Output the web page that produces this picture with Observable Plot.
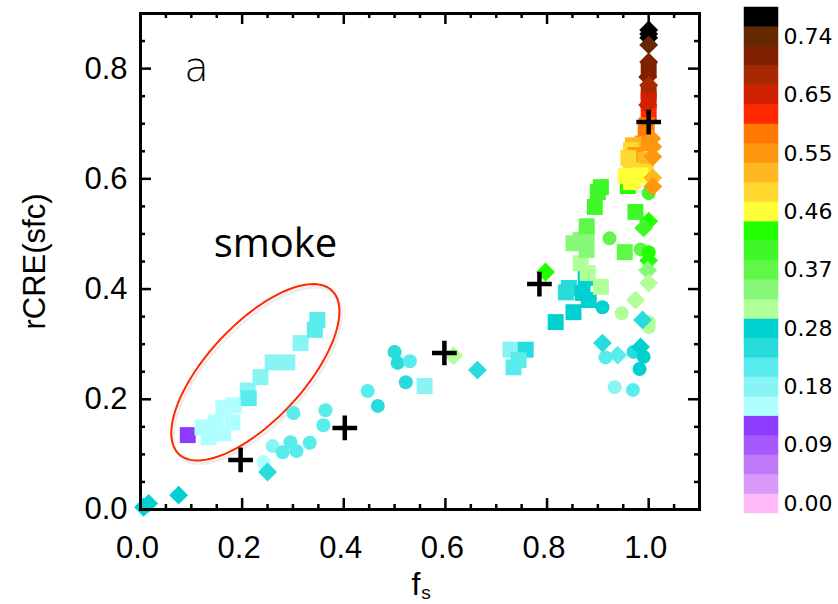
<!DOCTYPE html>
<html><head><meta charset="utf-8">
<script src="https://cdn.jsdelivr.net/npm/d3@7"></script>
<script src="https://cdn.jsdelivr.net/npm/@observablehq/plot@0.6"></script>
<style>
body{margin:0;background:#fff}
#c{position:relative;width:838px;height:604px;overflow:hidden;background:#fff}
#c svg{position:absolute;top:0}
</style>
</head><body><div id="c"></div>
<script>
// colour classes (1 = bottom of colour bar ... 26 = top)
const bandIds = d3.range(1, 27);
const bandColors = ["#ffb8f8","#d898f8","#c078f8","#a858ff","#8c3cff",
  "#b0ffff","#88f4f4","#58ecec","#28dcdc","#00d0d0",
  "#b0ff98","#88f878","#60f848","#40f828","#22ff00",
  "#ffff38","#ffd830","#ffb820","#ff9810","#ff7800",
  "#ff2800","#d02000","#a82800","#802000","#652800","#000000"];
const cbLabels = ["0.00","0.09","0.18","0.28","0.37","0.46","0.55","0.65","0.74"];
const cbLabelBands = [1,4,7,10,13,16,19,22,25];
const cbMax = 0.8;

// squares: [fs, rCRE(sfc), colour class]
const squares = [
 [0.093,0.135,5],[0.122,0.149,6],[0.134,0.131,6],[0.148,0.158,6],[0.163,0.138,6],
 [0.163,0.184,6],[0.181,0.158,6],[0.183,0.189,6],[0.211,0.216,7],[0.213,0.202,8],
 [0.236,0.240,7],[0.260,0.267,7],[0.289,0.267,7],[0.315,0.302,7],[0.343,0.326,8],
 [0.348,0.344,8],[0.559,0.224,7],[0.728,0.290,7],[0.758,0.290,9],[0.744,0.271,8],
 [0.734,0.258,8],[0.817,0.340,10],[0.837,0.394,9],[0.843,0.402,9],[0.876,0.420,10],
 [0.870,0.393,10],[0.882,0.380,10],[0.852,0.358,10],[0.906,0.404,11],[0.880,0.429,11],
 [0.866,0.447,11],[0.878,0.471,12],[0.852,0.483,12],[0.866,0.489,12],[0.878,0.500,12],
 [0.878,0.514,13],[0.894,0.549,14],[0.900,0.576,14],[0.906,0.585,14],[0.959,0.587,15],
 [0.974,0.540,14],[0.953,0.467,13],
 [1.000,0.797,24],[1.000,0.758,23],[1.000,0.743,22],[1.000,0.721,21],[0.996,0.697,20],
 [0.994,0.683,20],[0.988,0.664,19],[0.969,0.661,18],[0.965,0.652,17],[0.974,0.643,19],
 [0.960,0.638,17],[0.994,0.634,18],[0.965,0.616,17],[0.994,0.613,17],[0.955,0.605,16],
 [0.984,0.606,16],[0.970,0.598,16],[0.965,0.594,16]
];
const circles = [
 [0.242,0.086,6],[0.260,0.115,7],[0.280,0.104,8],[0.295,0.122,8],[0.307,0.106,8],
 [0.333,0.121,8],[0.301,0.175,8],[0.364,0.180,8],[0.360,0.153,8],[0.447,0.215,8],
 [0.467,0.188,9],[0.500,0.286,9],[0.506,0.266,9],[0.530,0.269,8],[0.522,0.231,9],
 [0.909,0.367,10],[0.947,0.356,11],[1.000,0.340,11],[1.000,0.331,11],[0.915,0.276,8],
 [0.970,0.286,9],[0.990,0.277,10],[0.982,0.255,10],[0.933,0.222,7],[0.969,0.217,8],
 [0.923,0.492,13],[0.984,0.472,13],[1.000,0.467,15],[1.000,0.574,14]
];
const diamonds = [
 [0.006,0.004,10],[0.016,0.011,10],[0.075,0.026,10],[0.250,0.068,9],[0.616,0.279,11],
 [0.663,0.253,9],[0.797,0.431,15],[0.974,0.380,11],[0.988,0.344,9],[0.909,0.302,9],
 [0.939,0.280,8],[0.984,0.295,10],[1.000,0.523,15],[0.990,0.511,14],[1.000,0.452,15],
 [0.998,0.434,12],[1.000,0.411,11],
 [1.000,0.870,26],[1.000,0.863,26],[1.000,0.856,26],[1.000,0.843,25],[1.000,0.812,24],
 [0.998,0.785,24],[1.000,0.770,23],[0.998,0.734,22],[1.006,0.673,19],[1.008,0.658,19],
 [1.008,0.640,19],[1.008,0.602,18],[1.008,0.586,19]
];
// bin means
const crosses = [[0.197,0.090],[0.402,0.148],[0.598,0.284],[0.785,0.409],[1.000,0.703]];

const xMajor = [0,0.2,0.4,0.6,0.8,1.0];
const xMinor = d3.range(0, 1.1001, 0.05).filter(v => Math.abs(v*5 - Math.round(v*5)) > 1e-6);
const yMajor = [0,0.2,0.4,0.6,0.8];
const yMinor = d3.range(0, 0.9001, 0.05).filter(v => Math.abs(v*5 - Math.round(v*5)) > 1e-6);

// annotation: smoke ellipse (centre in data units, radii in px, angle in degrees)
const smokeEllipse = {cx: 0.226, cy: 0.249, a: 112, b: 48, angle: -47};
const labels = [{text: "a", x: 0.11, y: 0.778}, {text: "smoke", x: 0.144, y: 0.458}];

const W = 730, H = 604, mL = 140, mR = 31, mT = 13, mB = 95;
const fw = W - mL - mR, fh = H - mT - mB;
const xDom = [0, 1.1], yDom = [0, 0.9];
const kx = fw / (xDom[1]-xDom[0]), ky = fh / (yDom[1]-yDom[0]);
const th = smokeEllipse.angle * Math.PI / 180;
const ellPts = d3.range(0, 121).map(i => {
  const t = i / 120 * 2 * Math.PI;
  const dx = smokeEllipse.a*Math.cos(t)*Math.cos(th) - smokeEllipse.b*Math.sin(t)*Math.sin(th);
  const dy = smokeEllipse.a*Math.cos(t)*Math.sin(th) + smokeEllipse.b*Math.sin(t)*Math.cos(th);
  return [smokeEllipse.cx + dx/kx, smokeEllipse.cy - dy/ky];
});

const colorScale = {type: "ordinal", domain: bandIds, range: bandColors};
const tk = {stroke: "black", strokeWidth: 2.5};

const main = Plot.plot({
  width: W, height: H, marginLeft: mL, marginRight: mR, marginTop: mT, marginBottom: mB,
  x: {domain: xDom}, y: {domain: yDom},
  color: colorScale,
  style: {fontFamily: "'Liberation Sans', Arial, sans-serif", background: "white", overflow: "visible"},
  marks: [
    Plot.line(ellPts, {x: d => d[0], y: d => d[1], stroke: "#999", strokeOpacity: 0.18, strokeWidth: 3, dx: 2, dy: 3}),
    Plot.line(ellPts, {x: d => d[0], y: d => d[1], stroke: "#ff2a00", strokeWidth: 2}),
    Plot.dot(squares, {x: d => d[0], y: d => d[1], fill: d => d[2], symbol: "square", r: 9}),
    Plot.dot(circles, {x: d => d[0], y: d => d[1], fill: d => d[2], symbol: "circle", r: 7}),
    Plot.dot(diamonds, {x: d => d[0], y: d => d[1], fill: d => d[2], symbol: "diamond2", r: 8.5}),
    Plot.dot(crosses, {x: d => d[0], y: d => d[1], stroke: "black", strokeWidth: 4.5, symbol: "plus", r: 8}),
    Plot.frame({stroke: "black", strokeWidth: 3}),
    Plot.tickX(xMajor, {x: d => d, insetTop: fh - 11, ...tk}),
    Plot.tickX(xMinor, {x: d => d, insetTop: fh - 5, ...tk}),
    Plot.tickX(xMajor, {x: d => d, insetBottom: fh - 11, ...tk}),
    Plot.tickX(xMinor, {x: d => d, insetBottom: fh - 5, ...tk}),
    Plot.tickY(yMajor, {y: d => d, insetRight: fw - 11, ...tk}),
    Plot.tickY(yMinor, {y: d => d, insetRight: fw - 5, ...tk}),
    Plot.tickY(yMajor, {y: d => d, insetLeft: fw - 11, ...tk}),
    Plot.tickY(yMinor, {y: d => d, insetLeft: fw - 5, ...tk}),
    Plot.axisX({ticks: xMajor, tickSize: 0, tickPadding: 26, tickFormat: d3.format(".1f"), fontSize: 31, label: null, dx: -3}),
    Plot.axisY({ticks: yMajor, tickSize: 0, tickPadding: 13, tickFormat: d3.format(".1f"), fontSize: 31, label: null}),
    Plot.text(["rCRE(sfc)"], {text: d => d, frameAnchor: "left", textAnchor: "middle", lineAnchor: "middle", dx: -105, rotate: -90, fontSize: 31, ariaLabel: "ytitle"}),
    Plot.text(["f"], {text: d => d, frameAnchor: "bottom", textAnchor: "middle", dx: -4, dy: 85, lineAnchor: "bottom", fontSize: 32}),
    Plot.text(["s"], {text: d => d, frameAnchor: "bottom", textAnchor: "middle", dx: 6, dy: 89, lineAnchor: "bottom", fontSize: 19}),
    Plot.text(labels.slice(0,1), {x: "x", y: "y", text: "text", lineAnchor: "bottom", fontSize: 40, fontFamily: "'DejaVu Sans', sans-serif", fontWeight: 200}),
    Plot.text(labels.slice(1), {x: "x", y: "y", text: "text", lineAnchor: "bottom", textAnchor: "start", fontSize: 40, fontFamily: "'Open Sans', sans-serif"})
  ]
});
d3.select(main).selectAll("g[aria-label=ytitle] text").style("letter-spacing", "4px");
main.style.left = "0px";

const bands = bandIds.map(b => ({id: b, lo: (b-1)*cbMax/26, hi: b*cbMax/26}));
const cb = Plot.plot({
  width: 108, height: 604, marginLeft: 14, marginRight: 60, marginTop: 7, marginBottom: 91,
  x: {domain: [0, 1], axis: null}, y: {domain: [0, cbMax], axis: null},
  color: colorScale,
  style: {background: "white", overflow: "visible"},
  marks: [
    Plot.rect(bands, {x1: () => 0, x2: () => 1, y1: "lo", y2: "hi", fill: "id", stroke: "id", strokeWidth: 0.5}),
    Plot.text(cbLabels, {x: () => 1, y: (d, i) => (cbLabelBands[i]-0.5)*cbMax/26, text: d => d, dx: 5, textAnchor: "start", fontSize: 22, fontFamily: "'DejaVu Sans', sans-serif", fill: "black"})
  ]
});
cb.style.left = "730px";
document.getElementById("c").append(main, cb);
</script></body></html>
